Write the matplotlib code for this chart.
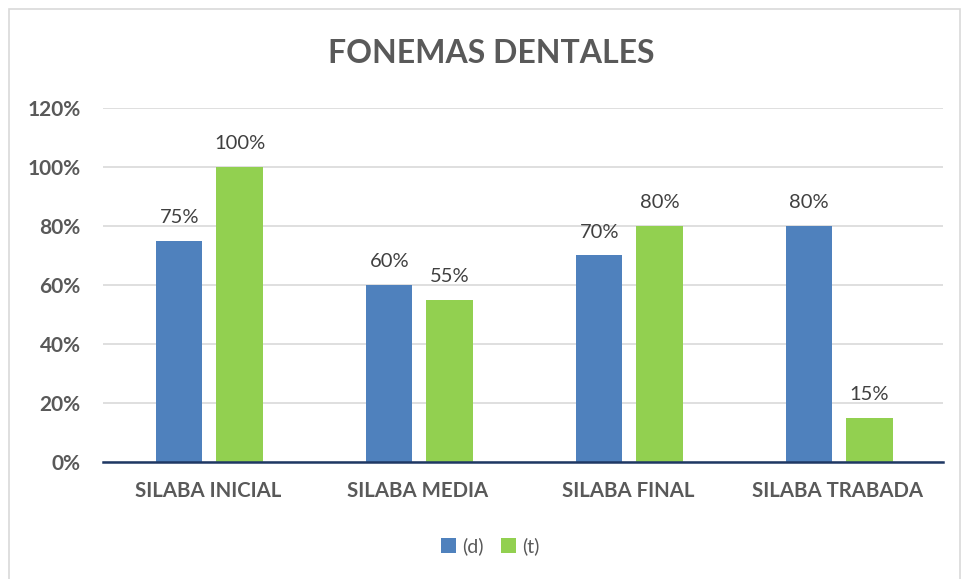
import numpy as np
import matplotlib.pyplot as plt
from matplotlib.patches import Rectangle

categories = ["SILABA INICIAL", "SILABA MEDIA", "SILABA FINAL", "SILABA TRABADA"]
d_values = [75, 60, 70, 80]
t_values = [100, 55, 80, 15]
yticks = [0, 20, 40, 60, 80, 100, 120]

plt.rcParams['font.family'] = ['Lato', 'DejaVu Sans']

fig = plt.figure(figsize=(9.61, 5.79), dpi=100)
fig.patches.append(Rectangle((0.009, -0.01), 0.99, 0.995, transform=fig.transFigure,
                             fill=False, edgecolor='#D9D9D9', linewidth=1.2))
ax = fig.add_axes([0.1072, 0.2021, 0.874, 0.6114])

x = np.arange(len(categories))
w = 0.22
b1 = ax.bar(x - 0.137, d_values, w, color='#4F81BD', label='(d)', zorder=3)
b2 = ax.bar(x + 0.150, t_values, w, color='#92D050', label='(t)', zorder=3)

for bars in (b1, b2):
    for r in bars:
        ax.text(r.get_x() + r.get_width() / 2, r.get_height() + 5, f"{r.get_height():.0f}%",
                ha='center', va='bottom', fontsize=14.5, color='#404040')

ax.set_xlim(-0.5, 3.5)
ax.set_ylim(0, 120)
ax.set_yticks(yticks)
ax.set_yticklabels([f"{v}%" for v in yticks], fontsize=15, fontweight='bold', color='#595959')
ax.set_xticks(x)
ax.set_xticklabels(categories, fontsize=14.7, fontweight='bold', color='#595959')
ax.tick_params(axis='both', length=0)
ax.tick_params(axis='y', pad=16)
ax.tick_params(axis='x', pad=14)
ax.yaxis.grid(True, color='#D9D9D9', linewidth=1.2, zorder=0)
for s in ['top', 'right', 'left']:
    ax.spines[s].set_visible(False)
ax.spines['bottom'].set_color('#1F3864')
ax.spines['bottom'].set_linewidth(1.8)
ax.spines['bottom'].set_zorder(4)

fig.text(0.511, 0.907, "FONEMAS DENTALES", ha='center', va='center', fontsize=23,
         fontweight='bold', color='#595959')

fig.legend(handles=[b1, b2], loc='center', bbox_to_anchor=(0.51, 0.057), ncol=2,
           frameon=False, fontsize=14, handlelength=0.8, handleheight=0.8,
           columnspacing=0.9, handletextpad=0.3, labelcolor='#595959')

fig.savefig("out.png", dpi=100)
